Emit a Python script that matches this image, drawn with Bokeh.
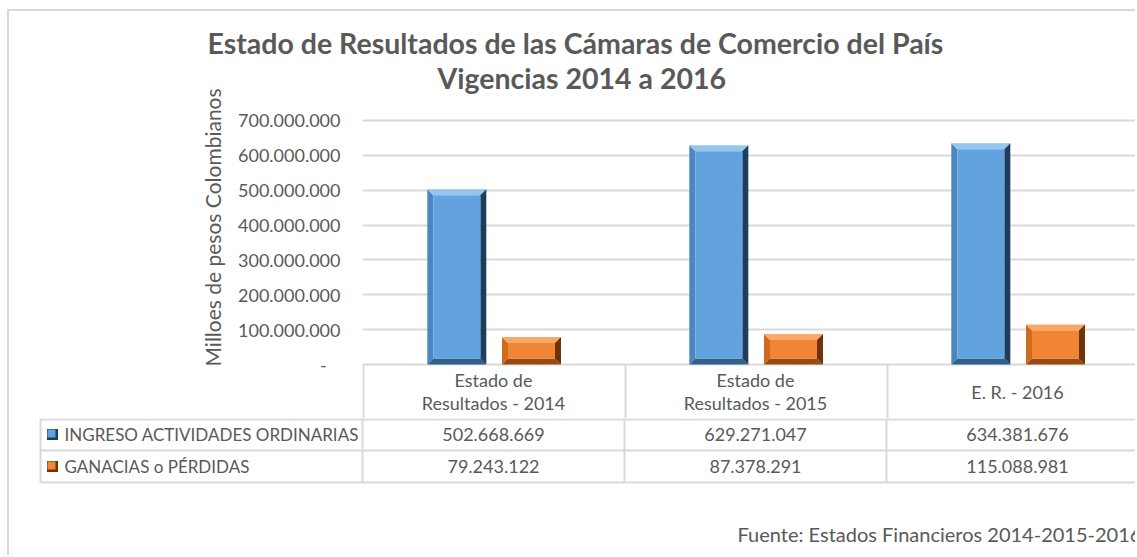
import math
from bokeh.plotting import figure
from bokeh.models import Range1d, FixedTicker, Title
from bokeh.layouts import column
from bokeh.embed import file_html
from bokeh.resources import INLINE
from bokeh.core.properties import value

# ---------------- data ----------------
categories = ["Estado de\nResultados - 2014", "Estado de\nResultados - 2015", "E. R. - 2016"]
ingreso = [502668669, 629271047, 634381676]
ganancias = [79243122, 87378291, 115088981]
series_names = ["INGRESO ACTIVIDADES ORDINARIAS", "GANACIAS o PÉRDIDAS"]
y_ticks = [0, 100000000, 200000000, 300000000, 400000000, 500000000, 600000000, 700000000]
y_tick_labels = ["-\u00a0\u00a0\u00a0", "100.000.000", "200.000.000", "300.000.000", "400.000.000",
                 "500.000.000", "600.000.000", "700.000.000"]
title_lines = ["Estado de Resultados de las Cámaras de Comercio del País", "Vigencias 2014 a 2016"]
y_axis_title = "Milloes de pesos Colombianos"
source_note = "Fuente: Estados Financieros 2014-2015-2016"


def fmt(v):
    return f"{v:,}".replace(",", ".")


# ---------------- layout constants (page pixels) ----------------
FONT = "Lato"
TXT = "#595959"
GRID = "#d9d9d9"
PAGE_L, PAGE_T = 9, 11
W = 1126
T_BOT = 418
T_H = T_BOT - PAGE_T
B_H = 555 - T_BOT
FRAME_L = 362      # page x of plot area left
CAT_W = 262        # px per category
ZERO_Y = 364       # page y of value 0
PX100 = 34.86      # px per 100 million
FRAME_TOP = 110
RIGHT = PAGE_L + W


def xu(px):
    return (px - FRAME_L) / CAT_W


def yu(py):
    return (ZERO_Y - py) / PX100 * 1e8


n = len(categories)
idx = list(range(n))
bounds = list(range(n + 1))

# ---------------- chart figure ----------------
p = figure(width=W, height=T_H, x_range=Range1d(0, xu(RIGHT)),
           y_range=Range1d(yu(T_BOT), yu(FRAME_TOP)), title=None,
           output_backend="svg", toolbar_location=None,
           x_axis_location=None, y_axis_location="left",
           min_border_left=FRAME_L - PAGE_L, min_border_right=0,
           min_border_top=FRAME_TOP - PAGE_T, min_border_bottom=0,
           outline_line_color=None, background_fill_color="white",
           border_fill_color="white")

ax = p.yaxis[0]
ax.ticker = FixedTicker(ticks=y_ticks)
ax.major_label_overrides = {t: l for t, l in zip(y_ticks, y_tick_labels)}
ax.major_label_text_font = FONT
ax.major_label_text_font_size = "18px"
ax.major_label_text_color = TXT
ax.major_label_standoff = 22
ax.major_tick_out = 0
ax.major_tick_in = 0
ax.minor_tick_out = 0
ax.minor_tick_in = 0
ax.axis_line_color = None

p.xgrid.visible = False
p.ygrid.grid_line_color = GRID
p.ygrid.grid_line_width = 2

# titles (added nearest-first)
p.add_layout(Title(text=title_lines[1], align="left", offset=437 - FRAME_L, text_font=FONT,
                   text_font_size="28.5px", text_font_style="bold", text_color=TXT,
                   standoff=31), "above")
p.add_layout(Title(text=title_lines[0], align="left", offset=207 - FRAME_L, text_font=FONT,
                   text_font_size="28.5px", text_font_style="bold", text_color=TXT,
                   standoff=-32), "above")
# vertical axis title
p.add_layout(Title(text=y_axis_title, align="left", offset=T_BOT - 366, text_font=FONT,
                   text_font_size="21px", text_font_style="normal", text_color=TXT,
                   standoff=21), "left")

# bars with bevelled edges
BAR_W = 59 / CAT_W
BX = 6 / CAT_W
BY = 6 / PX100 * 1e8
series = [
    (ingreso, -0.14, dict(top="#93c6f0", right="#1c3d5e", bottom="#2f5f8c",
                          left="#4a86bf", face="#62a3df")),
    (ganancias, 0.145, dict(top="#f9a966", right="#6e3309", bottom="#9a4a14",
                            left="#d06a1f", face="#f08535")),
]
for vals, off, c in series:
    cx = [i + 0.5 + off for i in idx]
    L = [x - BAR_W / 2 for x in cx]
    R = [x + BAR_W / 2 for x in cx]
    top_xs = [[l, r, r - BX, l + BX] for l, r in zip(L, R)]
    top_ys = [[v, v, v - BY, v - BY] for v in vals]
    rgt_xs = [[r, r, r - BX, r - BX] for r in R]
    rgt_ys = [[v, 0, BY, v - BY] for v in vals]
    bot_xs = [[l, r, r - BX, l + BX] for l, r in zip(L, R)]
    bot_ys = [[0, 0, BY, BY] for _ in vals]
    lft_xs = [[l, l, l + BX, l + BX] for l in L]
    lft_ys = [[0, v, v - BY, BY] for v in vals]
    p.patches(xs=lft_xs, ys=lft_ys, fill_color=c["left"], line_color=None)
    p.patches(xs=bot_xs, ys=bot_ys, fill_color=c["bottom"], line_color=None)
    p.patches(xs=top_xs, ys=top_ys, fill_color=c["top"], line_color=None)
    p.patches(xs=rgt_xs, ys=rgt_ys, fill_color=c["right"], line_color=None)
    p.quad(left=[l + BX for l in L], right=[r - BX for r in R], bottom=[BY] * n,
           top=[v - BY for v in vals], fill_color=c["face"], line_color=None)

# table header row (category labels) under the zero line
p.segment(x0=[b + 1 / CAT_W for b in bounds], y0=[0] * (n + 1), x1=[b + 1 / CAT_W for b in bounds],
          y1=[yu(T_BOT + 2)] * (n + 1), line_color=GRID, line_width=2)
p.text(x=[i + 0.5 for i in idx], y=[yu(391)] * n, text=categories,
       text_align="center", text_baseline="middle", text_font=value(FONT),
       text_font_size="18px", text_color=TXT, text_line_height=1.07)

# ---------------- table figure ----------------
t = figure(width=W, height=B_H, x_range=Range1d(xu(PAGE_L), xu(RIGHT)),
           y_range=Range1d(T_BOT + B_H, T_BOT), title=None,
           output_backend="svg", toolbar_location=None,
           x_axis_location=None, y_axis_location=None,
           min_border_left=0, min_border_right=0, min_border_top=0, min_border_bottom=0,
           outline_line_color=None, background_fill_color="white", border_fill_color="white")
t.grid.visible = False

row_y = [434, 466]
hy = [419, 450, 482]
t.segment(x0=[xu(40)] * 3, y0=hy, x1=[xu(RIGHT) + 1] * 3, y1=hy, line_color=GRID, line_width=2)
t.segment(x0=bounds, y0=[T_BOT - 2] * (n + 1), x1=bounds, y1=[482] * (n + 1), line_color=GRID, line_width=2)
t.segment(x0=[xu(40)], y0=[418], x1=[xu(40)], y1=[482], line_color=GRID, line_width=2)

key_cols = [series[0][2], series[1][2]]
t.rect(x=[xu(52)] * 2, y=row_y, width=11, height=11, width_units="screen", height_units="screen",
       fill_color=[c["right"] for c in key_cols], line_color=None)
t.rect(x=[xu(51)] * 2, y=[y - 1 for y in row_y], width=8, height=8, width_units="screen",
       height_units="screen", fill_color=[c["face"] for c in key_cols], line_color=None)
t.text(x=[xu(64)] * 2, y=row_y, text=series_names, text_align="left", text_baseline="middle",
       text_font=value(FONT), text_font_size="17px", text_color=TXT)

for vals, yy in zip([ingreso, ganancias], row_y):
    t.text(x=[i + 0.5 for i in idx], y=[yy] * n, text=[fmt(v) for v in vals],
           text_align="center", text_baseline="middle", text_font=value(FONT),
           text_font_size="18px", text_color=TXT)

t.text(x=[xu(737)], y=[533], text=[source_note], text_align="left", text_baseline="middle",
       text_font=value(FONT), text_font_size="20px", text_color=TXT)

layout = column(column(p), column(t), spacing=0,
                styles={"margin": "9px 0 0 7px", "border-top": "2px solid #d9d9d9",
                        "border-left": "2px solid #d9d9d9"})

open("out.html", "w").write(file_html(layout, INLINE))
